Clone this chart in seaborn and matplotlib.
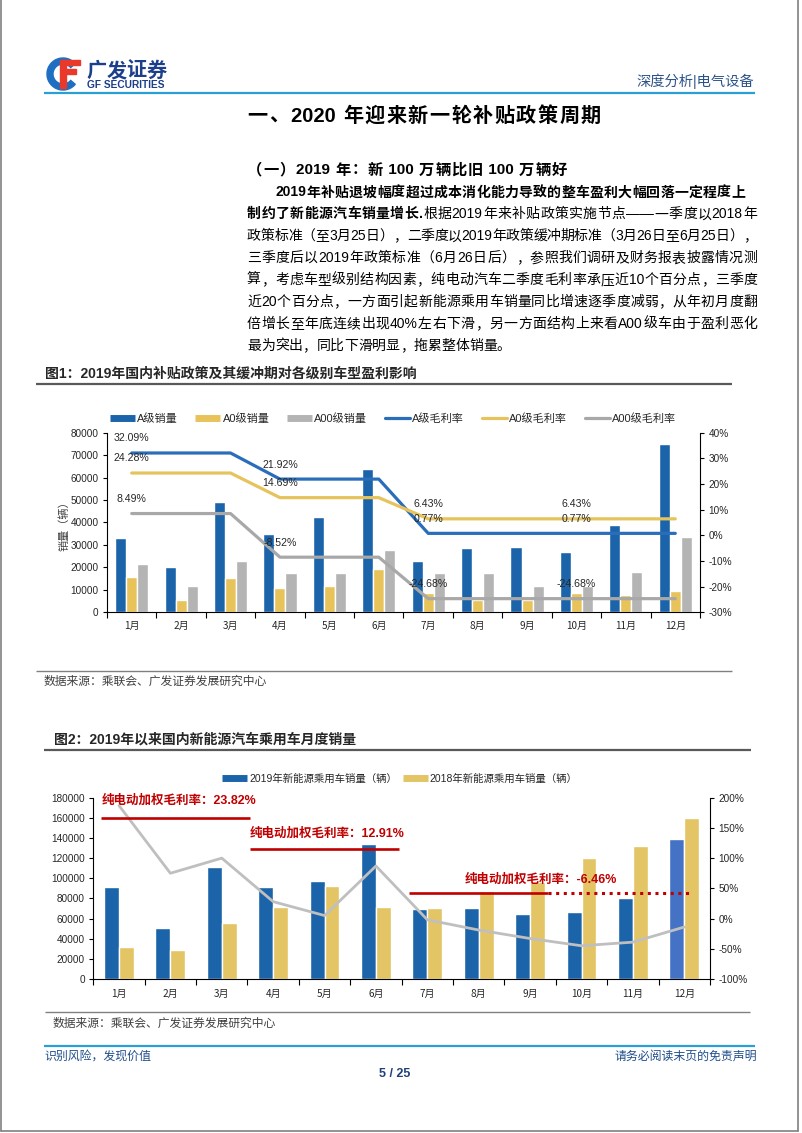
import numpy as np
import pandas as pd
import matplotlib
matplotlib.use('Agg')
import matplotlib.pyplot as plt
import seaborn as sns
from matplotlib.lines import Line2D
from matplotlib.patches import Wedge, Rectangle
from matplotlib.ticker import FuncFormatter

# ---------------- data ----------------
months = ['1月', '2月', '3月', '4月', '5月', '6月', '7月', '8月', '9月', '10月', '11月', '12月']

# fig 1: sales by class (units) and gross margin (%)
a_sales = [32900, 20400, 49100, 34900, 42500, 63900, 22900, 28800, 29300, 26800, 39100, 74800]
a0_sales = [15800, 5500, 15300, 10700, 11900, 19200, 8800, 5600, 5600, 8600, 7700, 9700]
a00_sales = [21300, 11600, 23000, 17400, 17700, 27700, 17500, 17700, 11900, 11800, 18100, 33600]
a_margin = [32.09, 32.09, 32.09, 21.92, 21.92, 21.92, 0.77, 0.77, 0.77, 0.77, 0.77, 0.77]
a0_margin = [24.28, 24.28, 24.28, 14.69, 14.69, 14.69, 6.43, 6.43, 6.43, 6.43, 6.43, 6.43]
a00_margin = [8.49, 8.49, 8.49, -8.52, -8.52, -8.52, -24.68, -24.68, -24.68, -24.68, -24.68, -24.68]
labelled_months = [0, 3, 6, 9]

# fig 2: monthly NEV passenger car sales and yoy growth
sales_2019 = [91000, 50700, 110900, 91700, 97000, 133800, 69200, 70500, 64900, 66900, 80800, 138700]
sales_2018 = [31800, 28800, 55600, 71500, 92000, 71500, 70900, 87000, 96400, 119900, 131800, 159700]
yoy_growth = [187, 75, 100, 28, 5, 87, -2, -19, -33, -45, -39, -14]
ev_margin_labels = ['23.82%', '12.91%', '-6.46%']

# ---------------- style ----------------
sns.set_theme(style='ticks')
plt.rcParams['font.family'] = ['Liberation Sans', 'Noto Sans CJK SC']
plt.rcParams['axes.unicode_minus'] = False

W, H = 802, 1133
fig = plt.figure(figsize=(W / 100, H / 100), dpi=100)
page = fig.add_axes([0, 0, 1, 1])
page.set_xlim(0, W)
page.set_ylim(H, 0)
page.axis('off')
renderer = fig.canvas.get_renderer()


def ax_rect(x0, y0, x1, y1):
    return [x0 / W, 1 - y1 / H, (x1 - x0) / W, (y1 - y0) / H]


def tokens_of(segments):
    out = []
    for text, bold in segments:
        buf = ''
        for ch in text:
            if ord(ch) > 0x2000:
                if buf:
                    out.append((buf, bold))
                    buf = ''
                out.append((ch, bold))
            else:
                buf += ch
        if buf:
            out.append((buf, bold))
    return out


def put_line(segments, x0, y, size, x1=None, color='black'):
    # draws a text line, spreading glyphs to fill x0..x1 like the justified original
    arts = []
    for s, b in tokens_of(segments):
        arts.append(page.text(0, y, s, fontsize=size, color=color,
                              fontweight='bold' if b else 'normal',
                              ha='left', va='baseline'))
    widths = [a.get_window_extent(renderer).width for a in arts]
    gap = 0
    if x1 is not None and len(arts) > 1:
        gap = (x1 - x0 - sum(widths)) / (len(arts) - 1)
    x = x0
    for a, w in zip(arts, widths):
        a.set_x(x)
        x += w + gap


def hline(y, x0, x1, color, lw):
    page.plot([x0, x1], [y, y], color=color, lw=lw, solid_capstyle='butt')


# ---------------- page frame / header ----------------
for xs, ys in [([1, 1], [0, 1131]), ([798, 798], [0, 1131]), ([1, 798], [1131, 1131])]:
    page.plot(xs, ys, color='#808080', lw=1.2)

page.add_patch(Wedge((63, 74), 16, 40, 320, width=6, color='#1E6FC2'))
page.add_patch(Rectangle((61, 60), 19, 5, color='#E8392B'))
page.add_patch(Rectangle((61, 69), 15, 5, color='#E8392B'))
page.add_patch(Rectangle((60, 60), 6, 28, color='#E8392B'))
put_line([('广发证券', True)], 86.7, 77, 14.5, x1=166.7, color='#1B3F8B')
page.text(86.7, 85.5, 'GF SECURITIES', fontsize=7.3, fontweight='bold', color='#1B3F8B',
          ha='left', va='center')
page.text(754, 81.7, '深度分析|电气设备', fontsize=10.3, color='#2B5387', ha='right', va='center')
hline(92.5, 44, 755, '#2A9FD6', 1.6)

# ---------------- body text ----------------
put_line([('一、2020 年迎来新一轮补贴政策周期', True)], 247.6, 121.5, 14.5, x1=601)
put_line([('（一）2019 年：新 100 万辆比旧 100 万辆好', True)], 247, 174.5, 11, x1=567)
body = [
    ([('2019年补贴退坡幅度超过成本消化能力导致的整车盈利大幅回落一定程度上', True)], 275, 745),
    ([('制约了新能源汽车销量增长.', True), ('根据2019年来补贴政策实施节点——一季度以2018年', False)], 247, 757),
    ([('政策标准（至3月25日），二季度以2019年政策缓冲期标准（3月26日至6月25日），', False)], 247, 757),
    ([('三季度后以2019年政策标准（6月26日后），参照我们调研及财务报表披露情况测', False)], 247, 757),
    ([('算，考虑车型级别结构因素，纯电动汽车二季度毛利率承压近10个百分点，三季度', False)], 247, 757),
    ([('近20个百分点，一方面引起新能源乘用车销量同比增速逐季度减弱，从年初月度翻', False)], 247, 757),
    ([('倍增长至年底连续出现40%左右下滑，另一方面结构上来看A00级车由于盈利恶化', False)], 247, 757),
    ([('最为突出，同比下滑明显，拖累整体销量。', False)], 247, None),
]
for i, (segs, x0, x1) in enumerate(body):
    put_line(segs, x0, 196.5 + 21.9 * i, 10, x1=x1)

# ---------------- figure 1 ----------------
page.text(45, 374, '图1：2019年国内补贴政策及其缓冲期对各级别车型盈利影响', fontsize=10,
          fontweight='bold', ha='left', va='center')
hline(384.3, 36, 732, '#595959', 1.6)

bar_colors1 = ['#1C64AA', '#E8C35A', '#B4B4B4']
line_colors1 = ['#2A6EBB', '#E6C35C', '#A8A8A8']
bar_names1 = ['A级销量', 'A0级销量', 'A00级销量']
line_names1 = ['A级毛利率', 'A0级毛利率', 'A00级毛利率']

ax1 = fig.add_axes(ax_rect(107, 432.7, 700, 612.3))
df1 = pd.DataFrame({'month': months * 3,
                    'series': np.repeat(bar_names1, len(months)),
                    'value': a_sales + a0_sales + a00_sales})
sns.barplot(data=df1, x='month', y='value', hue='series', palette=bar_colors1,
            width=0.67, saturation=1, errorbar=None, legend=False, ax=ax1)

ax1r = ax1.twinx()
df1l = pd.DataFrame({'pos': list(range(len(months))) * 3,
                     'series': np.repeat(line_names1, len(months)),
                     'margin': np.array(a_margin + a0_margin + a00_margin) / 100})
sns.lineplot(data=df1l, x='pos', y='margin', hue='series', palette=line_colors1,
             linewidth=2.3, legend=False, ax=ax1r)
for vals in [a_margin, a0_margin, a00_margin]:
    for i in labelled_months:
        ax1r.annotate(f'{vals[i]:.2f}%', (i, vals[i] / 100), xytext=(0, 10.5),
                      textcoords='offset points', ha='center', va='center', fontsize=7.6)

ax1.set_ylim(0, 80000)
ax1.set_yticks(range(0, 80001, 10000))
ax1r.set_ylim(-0.3, 0.4)
ax1r.set_yticks(np.arange(-0.3, 0.41, 0.1))
ax1r.yaxis.set_major_formatter(FuncFormatter(lambda v, p: f'{v:.0%}'))
ax1.set_xlim(-0.5, 11.5)
ax1.set_xlabel('')
ax1.set_ylabel('')
ax1r.set_ylabel('')
page.text(64, 523, '销量（辆）', fontsize=8, rotation=90, ha='center', va='center', color='#404040')

# ---------------- figure 2 ----------------
page.text(54, 740, '图2：2019年以来国内新能源汽车乘用车月度销量', fontsize=10,
          fontweight='bold', ha='left', va='center')
hline(750, 44, 751, '#595959', 1.6)

bar_colors2 = ['#1C64AA', '#E3C565']
bar_names2 = ['2019年新能源乘用车销量（辆）', '2018年新能源乘用车销量（辆）']

ax2 = fig.add_axes(ax_rect(93.3, 797.7, 710, 979))
df2 = pd.DataFrame({'month': months * 2,
                    'series': np.repeat(bar_names2, len(months)),
                    'value': sales_2019 + sales_2018})
sns.barplot(data=df2, x='month', y='value', hue='series', palette=bar_colors2,
            width=0.58, saturation=1, errorbar=None, legend=False, ax=ax2)
ax2.containers[0][11].set_facecolor('#4472C4')

ax2r = ax2.twinx()
sns.lineplot(x=list(range(len(months))), y=np.array(yoy_growth) / 100, color='#BFBFBF',
             linewidth=2.0, ax=ax2r)

red = '#C00000'
ax2r.hlines(160000, -0.35, 2.55, color=red, lw=1.9, transform=ax2.transData)
ax2r.hlines(129000, 2.55, 5.45, color=red, lw=1.9, transform=ax2.transData)
ax2r.hlines(85000, 5.65, 8.35, color=red, lw=1.9, transform=ax2.transData)
ax2r.plot([8.35, 11.17], [85000, 85000], color=red, lw=2.2, ls=(0, (1, 1.5)),
          transform=ax2.transData)
for (x, y), lab in zip([(-0.34, 176800), (2.55, 144700), (6.73, 98300)], ev_margin_labels):
    ax2r.text(x, y, '纯电动加权毛利率：' + lab, color=red, fontsize=9, fontweight='bold',
              ha='left', va='center', transform=ax2.transData)

ax2.set_ylim(0, 180000)
ax2.set_yticks(range(0, 180001, 20000))
ax2r.set_ylim(-1, 2)
ax2r.set_yticks(np.arange(-1, 2.01, 0.5))
ax2r.yaxis.set_major_formatter(FuncFormatter(lambda v, p: f'{v:.0%}'))
ax2.set_xlim(-0.5, 11.5)
ax2.set_xlabel('')
ax2.set_ylabel('')
ax2r.set_ylabel('')

# ---------------- shared axis styling ----------------
for ax, axr, pad in [(ax1, ax1r, 6), (ax2, ax2r, 7)]:
    for s in ['top', 'right']:
        ax.spines[s].set_visible(False)
    for s in ['top', 'left', 'bottom']:
        axr.spines[s].set_visible(False)
    for sp in [ax.spines['left'], ax.spines['bottom'], axr.spines['right']]:
        sp.set_color('black')
        sp.set_linewidth(0.8)
    ax.set_xticks(np.arange(-0.5, 12, 1), minor=True)
    ax.tick_params(axis='x', which='major', length=0, pad=pad, labelsize=7.2)
    ax.tick_params(axis='x', which='minor', length=4, width=0.8, color='black', direction='out')
    ax.tick_params(axis='y', which='major', length=3, width=0.8, color='black', pad=3,
                   labelsize=7.2, direction='out')
    axr.tick_params(axis='y', which='major', length=3, width=0.8, color='black', pad=3,
                    labelsize=7.2, direction='out', right=True)
    for lab in ax.get_xticklabels():
        lab.set_fontfamily(['Noto Sans CJK SC'])

# ---------------- legends ----------------
h1 = [Line2D([], [], color=c, lw=5, solid_capstyle='butt') for c in bar_colors1] + \
     [Line2D([], [], color=c, lw=2.3) for c in line_colors1]
fig.legend(h1, bar_names1 + line_names1, loc='center', bbox_to_anchor=(393, 419),
           bbox_transform=page.transData, ncol=6, frameon=False, fontsize=8,
           handlelength=2.25, handletextpad=0.2, columnspacing=1.6, labelcolor='#262626')
h2 = [Line2D([], [], color=c, lw=5, solid_capstyle='butt') for c in bar_colors2]
fig.legend(h2, bar_names2, loc='center', bbox_to_anchor=(400, 779),
           bbox_transform=page.transData, ncol=2, frameon=False, fontsize=7.5,
           handlelength=2.4, handletextpad=0.2, columnspacing=0.5, labelcolor='#262626')

# ---------------- sources / footer ----------------
hline(670.7, 36, 732, '#808080', 1.0)
page.text(44, 681.7, '数据来源：乘联会、广发证券发展研究中心', fontsize=8.5, color='#404040',
          ha='left', va='center')
hline(1012, 45, 750, '#808080', 1.0)
page.text(53, 1024, '数据来源：乘联会、广发证券发展研究中心', fontsize=8.5, color='#404040',
          ha='left', va='center')

hline(1045.7, 44, 755, '#2A9FD6', 1.6)
page.text(44, 1056.7, '识别风险，发现价值', fontsize=8.6, color='#1F4E8C', ha='left', va='center')
page.text(757, 1056.7, '请务必阅读末页的免责声明', fontsize=8.6, color='#1F4E8C', ha='right', va='center')
page.text(395, 1074, '5 / 25', fontsize=9, fontweight='bold', color='#1F3F77', ha='center', va='center')

fig.savefig('out.png', dpi=100)
